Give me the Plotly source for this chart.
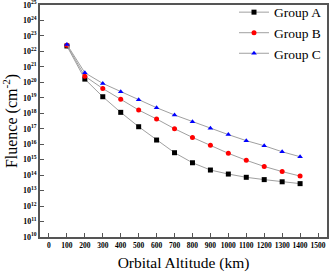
import plotly.graph_objects as go

altitude = [100, 200, 300, 400, 500, 600, 700, 800, 900, 1000, 1100, 1200, 1300, 1400]
group_a_log = [22.35, 20.21, 19.07, 18.06, 17.13, 16.27, 15.45, 14.80, 14.33, 14.07, 13.86, 13.71, 13.57, 13.45]
group_b_log = [22.40, 20.40, 19.60, 18.90, 18.21, 17.63, 17.00, 16.44, 15.93, 15.41, 14.96, 14.56, 14.23, 13.94]
group_c_log = [22.45, 20.62, 19.93, 19.39, 18.88, 18.36, 17.89, 17.45, 17.03, 16.62, 16.23, 15.90, 15.51, 15.19]
series_names = ["Group A", "Group B", "Group C"]
x_ticks = list(range(0, 1600, 100))
y_exponents = list(range(10, 26))

group_a = [10.0 ** v for v in group_a_log]
group_b = [10.0 ** v for v in group_b_log]
group_c = [10.0 ** v for v in group_c_log]

serif = "Liberation Serif, Times New Roman, serif"
styles = [("black", "square"), ("red", "circle"), ("blue", "triangle-up")]

fig = go.Figure()
for name, ys, (col, sym) in zip(series_names, [group_a, group_b, group_c], styles):
    fig.add_trace(go.Scatter(
        x=altitude, y=ys, name=name, mode="lines+markers",
        line=dict(color="#a0a0a0", width=1),
        marker=dict(color=col, symbol=sym, size=5, line=dict(width=0)),
    ))

axis_common = dict(
    showline=True, linecolor="#555555", linewidth=1.5, mirror=True,
    ticks="inside", ticklen=4, tickcolor="#555555", tickwidth=1,
    showgrid=False, zeroline=False, automargin=False,
    ticklabeloverflow="allow",
)

fig.update_layout(
    width=330, height=274, autosize=False,
    margin=dict(l=40, r=3, t=5, b=37, pad=0, autoexpand=False),
    paper_bgcolor="white", plot_bgcolor="white",
    font=dict(family=serif, color="black"),
    showlegend=True,
    legend=dict(x=1.0, y=1.035, xanchor="right", yanchor="top",
                bgcolor="rgba(0,0,0,0)", font=dict(size=13.5, family=serif),
                tracegroupgap=0, itemwidth=30),
    xaxis=dict(range=[-50, 1550], tickvals=x_ticks,
               ticktext=["<b>%d</b>" % v for v in x_ticks],
               tickfont=dict(size=7.5, family=serif),
               title=dict(text="Orbital Altitude (km)", font=dict(size=15.5, family=serif), standoff=8),
               **axis_common),
    yaxis=dict(type="log", range=[10, 25.001], tickvals=[10.0 ** e for e in y_exponents],
               ticktext=["<b>10<sup>%d</sup></b>" % e for e in y_exponents],
               tickfont=dict(size=8, family=serif),
               title=dict(text="Fluence (cm<sup>-2</sup>)", font=dict(size=16, family=serif), standoff=4),
               **axis_common),
)

fig.write_html("out.html", config={"displayModeBar": False},
               post_script="document.body.style.margin='0px';")
